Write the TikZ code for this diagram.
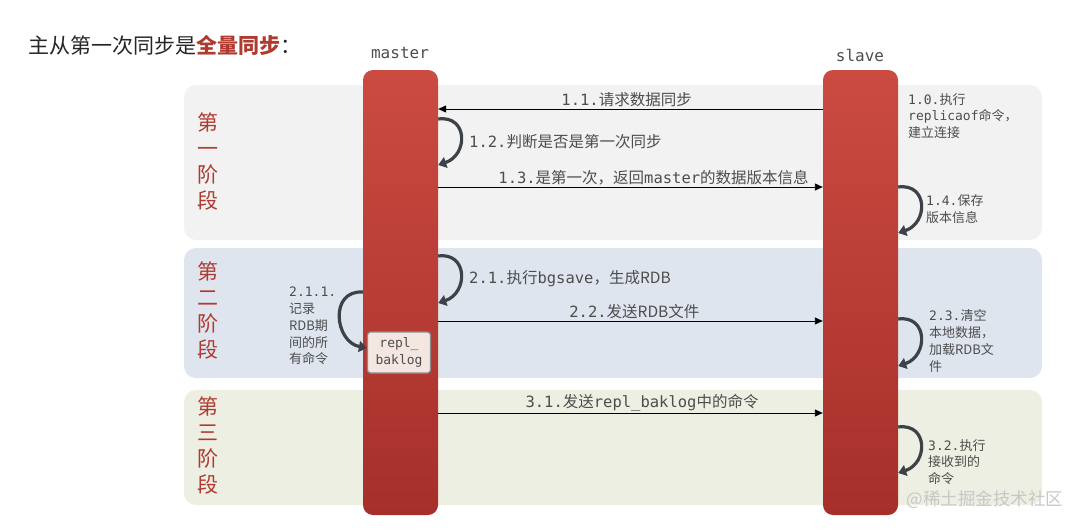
\documentclass[tikz,border=0pt]{standalone}
\usepackage{fontspec}
\setmainfont{Noto Sans CJK SC}
\setmonofont{DejaVu Sans Mono}
\usetikzlibrary{arrows.meta}

\definecolor{barTop}{HTML}{CB4B41}
\definecolor{barBot}{HTML}{A62F2A}
\definecolor{phaseA}{HTML}{F2F2F2}
\definecolor{phaseB}{HTML}{DFE5EF}
\definecolor{phaseC}{HTML}{ECEFE1}
\definecolor{phaseRed}{HTML}{AE3A30}
\definecolor{txtGrey}{HTML}{4D4D4D}
\definecolor{loopGrey}{HTML}{3C4247}
\definecolor{logFill}{HTML}{F4E6E1}

\tikzset{
  bar/.style={rounded corners=10pt, top color=barTop, bottom color=barBot, draw=none,
    minimum width=75pt, minimum height=445pt, inner sep=0pt},
  phasename/.style={text=phaseRed, font=\fontsize{21}{26}\selectfont, align=center},
  msg/.style={draw=black, line width=0.9pt, -{Triangle[length=8pt,width=7pt]}},
  msglabel/.style={above=1.5pt, inner sep=0pt, text=txtGrey, font=\fontsize{15.5}{18}\selectfont},
  selfloop/.style={draw=loopGrey, line width=3.2pt, -{Triangle[length=8pt,width=11pt]}},
  note/.style={anchor=west, text=txtGrey, font=\fontsize{13}{16.8}\selectfont, align=left, inner sep=0pt},
  bignote/.style={note, font=\fontsize{15.5}{18}\selectfont},
  logbox/.style={fill=logFill, draw=black!45, line width=1.2pt, rounded corners=3pt,
    minimum width=63pt, minimum height=41pt, inner sep=0pt, align=center,
    font=\ttfamily\fontsize{13}{17}\selectfont, text=txtGrey},
}

\begin{document}
\begin{tikzpicture}[x=1pt, y=-1pt]
\useasboundingbox (0,0) rectangle (1082,530);

% phases
\fill[phaseA, rounded corners=12pt] (184,85) rectangle (1042,240);
\fill[phaseB, rounded corners=12pt] (184,248) rectangle (1042,378);
\fill[phaseC, rounded corners=12pt] (184,390) rectangle (1042,505);

\node[phasename] (p1) at (208,162) {第\\一\\阶\\段};
\node[phasename] (p2) at (208,311) {第\\二\\阶\\段};
\node[phasename] (p3) at (208,446) {第\\三\\阶\\段};

% title
\node[anchor=west, font=\fontsize{21}{24}\selectfont, text=black!85] (title) at (25,45)
  {主从第一次同步是\textcolor{phaseRed}{\bfseries 全量同步}：};

% master and slave
\node[bar] (master) at (400.5,292.5) {};
\node[bar] (slave) at (860.5,292.5) {};
\node[font=\ttfamily\fontsize{16}{16}\selectfont, text=txtGrey] (mastername) at (400,53) {master};
\node[font=\ttfamily\fontsize{16}{16}\selectfont, text=txtGrey] (slavename) at (860,55) {slave};

\node[logbox] (log) at (399,352.5) {repl\_\\baklog};

% phase 1
\draw[msg] (slave.west |- 0,109) -- node[msglabel, pos=0.51] {\texttt{1.1.}请求数据同步} (master.east |- 0,109);
\draw[selfloop] (master.east |- 0,119) .. controls +(30,-4) and +(30,-10) .. (master.east |- 0,165);
\node[bignote] (t12) at (469,142) {\texttt{1.2.}判断是否是第一次同步};
\draw[msg] (master.east |- 0,187) -- node[msglabel, pos=0.56] {\texttt{1.3.}是第一次，返回\texttt{master}的数据版本信息} (slave.west |- 0,187);
\node[note] (t10) at (908,116) {\texttt{1.0.}执行\\\texttt{replicaof}命令，\\建立连接};
\draw[selfloop] (slave.east |- 0,187) .. controls +(30,-4) and +(30,-10) .. (slave.east |- 0,233);
\node[note] (t14) at (926,209) {\texttt{1.4.}保存\\版本信息};

% phase 2
\draw[selfloop] (master.east |- 0,256) .. controls +(30,-4) and +(30,-10) .. (master.east |- 0,303);
\node[bignote] (t21) at (469,279) {\texttt{2.1.}执行\texttt{bgsave}，生成RDB};
\draw[selfloop] (master.west |- 0,292) .. controls +(-34,-2) and +(-32,-6) .. (log.west |- 0,348);
\node[note] (t211) at (289,326) {\texttt{2.1.1.}\\记录\\RDB期\\间的所\\有命令};
\draw[msg] (master.east |- 0,321) -- node[msglabel, pos=0.51] {\texttt{2.2.}发送RDB文件} (slave.west |- 0,321);
\draw[selfloop] (slave.east |- 0,319) .. controls +(30,-4) and +(30,-10) .. (slave.east |- 0,366);
\node[note] (t23) at (929,341) {\texttt{2.3.}清空\\本地数据，\\加载RDB文\\件};

% phase 3
\draw[msg] (master.east |- 0,413) -- node[msglabel, pos=0.53] {\texttt{3.1.}发送\texttt{repl\_baklog}中的命令} (slave.west |- 0,413);
\draw[selfloop] (slave.east |- 0,427) .. controls +(30,-4) and +(30,-10) .. (slave.east |- 0,473);
\node[note] (t32) at (928,462) {\texttt{3.2.}执行\\接收到的\\命令};

\node[anchor=west, text=black!22, font=\fontsize{17.5}{18}\selectfont] (mark) at (903,500) {@稀土掘金技术社区};

\end{tikzpicture}
\end{document}
